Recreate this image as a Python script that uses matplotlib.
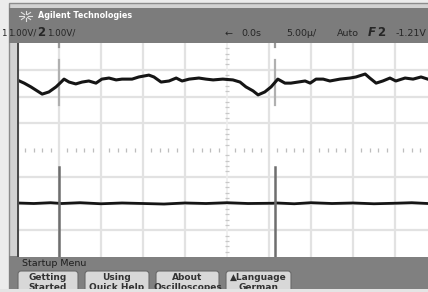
import math
import matplotlib.pyplot as plt
from matplotlib.patches import Rectangle, FancyBboxPatch

# channel 1 trace (time in divisions, level in divisions)
ch1_t = [0.00, 0.17, 0.33, 0.45, 0.60, 0.76, 0.93, 1.05, 1.12, 1.24, 1.40, 1.55,
         1.71, 1.88, 2.02, 2.19, 2.36, 2.50, 2.74, 2.90, 3.14, 3.26, 3.43, 3.62,
         3.79, 3.93, 4.10, 4.33, 4.50, 4.67, 4.90, 5.14, 5.31, 5.45, 5.62, 5.74,
         5.90, 6.05, 6.21, 6.38, 6.52, 6.69, 6.86, 6.98, 7.12, 7.29, 7.45, 7.69,
         7.93, 8.07, 8.29, 8.40, 8.55, 8.71, 8.88, 9.02, 9.24, 9.43, 9.62, 9.78]
ch1_v = [2.62, 2.50, 2.36, 2.24, 2.09, 2.17, 2.36, 2.54, 2.65, 2.54, 2.47, 2.54,
         2.58, 2.50, 2.65, 2.69, 2.62, 2.65, 2.65, 2.73, 2.80, 2.73, 2.54, 2.58,
         2.69, 2.58, 2.65, 2.69, 2.65, 2.62, 2.65, 2.62, 2.54, 2.36, 2.21, 2.06,
         2.17, 2.36, 2.65, 2.50, 2.50, 2.54, 2.58, 2.50, 2.65, 2.65, 2.58, 2.65,
         2.69, 2.73, 2.84, 2.69, 2.50, 2.58, 2.69, 2.58, 2.69, 2.65, 2.73, 2.65]

# channel 2 trace
ch2_t = [0.00, 0.40, 0.80, 0.98, 1.06, 1.50, 2.00, 2.50, 3.00, 3.50, 4.00, 4.50,
         5.00, 5.50, 6.10, 6.18, 6.60, 7.00, 7.50, 8.00, 8.50, 9.00, 9.40, 9.78]
ch2_v = [-1.98, -2.00, -1.97, -1.99, -2.00, -1.97, -2.01, -1.98, -2.00, -2.02, -1.98, -2.00,
         -1.97, -2.00, -1.99, -1.98, -2.01, -1.97, -2.00, -1.98, -2.01, -1.99, -1.97, -2.00]

# trigger markers
marker_t = [1.0, 6.14]

header_left = [("1", 1), ("1.00V/", 8), ("2", 37), ("1.00V/", 47)]
header_right = [("\u2190", 225), ("0.0s", 241), ("5.00\u00b5/", 286), ("Auto", 337),
                ("F", 368), ("2", 377), ("-1.21V", 396)]
buttons = [("Getting", "Started"), ("Using", "Quick Help"),
           ("About", "Oscilloscopes"), ("\u25b2Language", "German")]
button_x = [(17, 79), (84, 150), (155, 220), (225, 292)]

fig = plt.figure(figsize=(4.28, 2.92), dpi=100)
fig.patch.set_facecolor('#ececec')

# frame / chrome, pixel coords
ui = fig.add_axes([0, 0, 1, 1])
ui.set_xlim(0, 428)
ui.set_ylim(292, 0)
ui.axis('off')
ui.add_patch(Rectangle((9, 3), 430, 286, fc='#d2d2d2', ec='#8c8c8c', lw=1))
ui.add_patch(Rectangle((9.5, 8), 420, 35, fc='#7c7c7c', ec='none'))
ui.add_patch(Rectangle((9.5, 256), 420, 33, fc='#808080', ec='none'))

# logo
for a in range(8):
    ang = a * math.pi / 4
    ui.plot([26 + 2 * math.cos(ang), 26 + 6.5 * math.cos(ang)],
            [16 + 2 * math.sin(ang), 16 + 5 * math.sin(ang)], color='#e0e0e0', lw=0.8)
ui.text(38, 16, "Agilent Technologies", color='white', fontsize=5.8, fontweight='bold', va='center')

for s, x in header_left:
    big = s == "2"
    ui.text(x, 33, s, color='#262626', fontsize=8.5 if big else 6.3,
            fontweight='bold' if big else 'normal', va='center')
for s, x in header_right:
    big = s in ("F", "2")
    ui.text(x, 33, s, color='#262626', fontsize=8.5 if big else 6.8,
            fontweight='bold' if big else 'normal', style='italic' if s == "F" else 'normal',
            va='center')

ui.text(22, 263, "Startup Menu", color='#1e1e1e', fontsize=6.8, va='center')
for (l1, l2), (x0, x1) in zip(buttons, button_x):
    ui.add_patch(FancyBboxPatch((x0 + 1, 271), x1 - x0 - 2, 24, boxstyle='round,pad=0,rounding_size=3',
                                fc='#d8d8d8', ec='#6a6a6a', lw=0.8))
    ui.text((x0 + x1) / 2, 277, l1, color='#333333', fontsize=6.5, fontweight='bold',
            ha='center', va='center')
    ui.text((x0 + x1) / 2, 288, l2, color='#333333', fontsize=6.5, fontweight='bold',
            ha='center', va='center')
ui.add_patch(Rectangle((0, 288.5), 428, 5, fc='#e4e4e4', ec='none', zorder=10))

# scope display
ax = fig.add_axes([17 / 428, (292 - 257) / 292, 411 / 428, 214 / 292])
ax.set_xlim(0, 411 / 42)
ax.set_ylim(-4, 4)
ax.set_facecolor('white')
for sp in ax.spines.values():
    sp.set_visible(False)
ax.set_xticks([])
ax.set_yticks([])

for x in range(1, 10):
    if x != 5:
        ax.axvline(x, color='#e2e2e2', lw=1.6, zorder=1)
for y in range(-3, 4):
    if y != 0:
        ax.axhline(y, color='#e2e2e2', lw=1.6, zorder=1)
ax.axvline(5, color='#ededed', lw=1.2, zorder=1)
dots = [i * 0.2 for i in range(49) if i % 5 != 0]
ax.plot(dots, [0] * len(dots), ls='none', marker='|', ms=2.5, mew=0.9, color='#bdbdbd', zorder=1)
ydots = [-4 + i * 0.2 for i in range(41) if i % 5 != 0]
ax.plot([5] * len(ydots), ydots, ls='none', marker='_', ms=2.5, mew=0.9, color='#c8c8c8', zorder=1)

ax.plot(ch2_t, ch2_v, color='#151515', lw=2.0, zorder=3)
for t in marker_t:
    ax.plot([t, t], [1.68, 3.36], color='#b0b0b0', lw=1.6, zorder=2)
    ax.plot([t, t], [-4, -0.64], color='#6e6e6e', lw=1.8, zorder=4)
    ax.plot([t, t], [3.85, 4], color='#9a9a9a', lw=1.6, zorder=2)
ax.plot(ch1_t, ch1_v, color='#151515', lw=2.2, zorder=3)
ax.axvline(0.02, color='#4a4a4a', lw=1.5, zorder=5)

fig.savefig('out.png', dpi=100)
